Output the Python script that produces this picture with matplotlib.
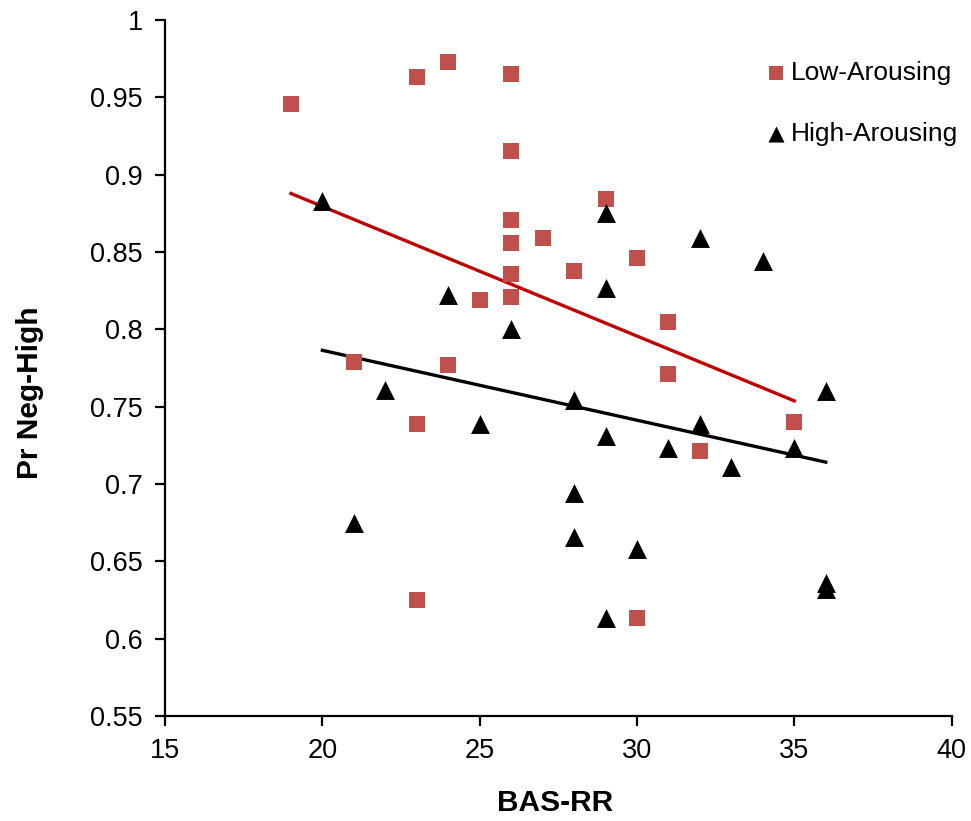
import numpy as np
import matplotlib.pyplot as plt

plt.rcParams["font.family"] = ["Liberation Sans", "DejaVu Sans"]

# Low-Arousing (red squares)
low_x = [19, 23, 24, 26, 26, 26, 26, 27, 26, 26, 29, 30, 28, 25, 31, 31, 35, 32, 21, 24, 23, 23, 30]
low_y = [0.946, 0.963, 0.973, 0.965, 0.915, 0.871, 0.856, 0.859, 0.836, 0.821, 0.884, 0.846,
         0.838, 0.819, 0.805, 0.771, 0.740, 0.721, 0.779, 0.777, 0.739, 0.625, 0.613]

# High-Arousing (black triangles)
high_x = [20, 24, 26, 29, 32, 34, 29, 28, 36, 29, 31, 32, 35, 33, 28, 28, 30, 36, 36, 29, 22, 25, 21]
high_y = [0.883, 0.822, 0.800, 0.875, 0.859, 0.844, 0.827, 0.754, 0.760, 0.731, 0.723, 0.739,
          0.723, 0.711, 0.694, 0.666, 0.658, 0.636, 0.632, 0.613, 0.761, 0.739, 0.675]

fig = plt.figure(figsize=(9.71, 8.21), dpi=100)
ax = fig.add_axes([0.170, 0.128, 0.810, 0.8476])

ax.scatter(low_x, low_y, marker="s", s=135, color="#C0504D", linewidths=0, label="Low-Arousing", zorder=3)
ax.scatter(high_x, high_y, marker="^", s=185, color="black", linewidths=0, label="High-Arousing", zorder=3)

# linear trendlines over each series' range
for xs, ys, c in [(low_x, low_y, "#C00000"), (high_x, high_y, "black")]:
    m, b = np.polyfit(xs, ys, 1)
    xx = np.array([min(xs), max(xs)])
    ax.plot(xx, m * xx + b, color=c, lw=2.4, zorder=2)

ax.set_xlim(15, 40)
ax.set_ylim(0.55, 1.0)
ax.set_xticks(np.arange(15, 41, 5))
ax.set_yticks(np.arange(0.55, 1.001, 0.05))
ax.set_yticklabels(["0.55", "0.6", "0.65", "0.7", "0.75", "0.8", "0.85", "0.9", "0.95", "1"])

ax.spines["top"].set_visible(False)
ax.spines["right"].set_visible(False)
for s in ["left", "bottom"]:
    ax.spines[s].set_linewidth(1.6)
ax.tick_params(direction="out", length=7, width=1.6, labelsize=19.5, pad=9)

ax.set_xlabel("BAS-RR", fontsize=21.5, fontweight="bold")
ax.set_ylabel("Pr Neg-High", fontsize=21.5, fontweight="bold")
ax.xaxis.set_label_coords(0.496, -0.105)
ax.yaxis.set_label_coords(-0.154, 0.464)

ax.legend(loc="upper left", bbox_to_anchor=(0.761, 0.955), bbox_transform=fig.transFigure,
          frameon=False, fontsize=19, handletextpad=0.05, labelspacing=1.4,
          handlelength=1.0, markerscale=0.85)

fig.savefig("out.png", dpi=100)
